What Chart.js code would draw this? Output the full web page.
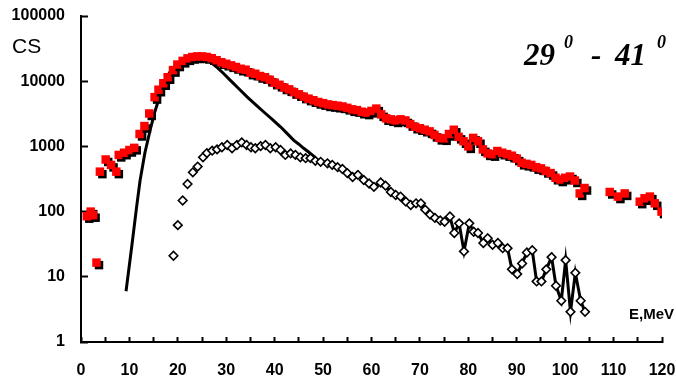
<!DOCTYPE html>
<html>
<head>
<meta charset="utf-8">
<script src="https://cdn.jsdelivr.net/npm/chart.js@4"></script>
<style>
  body { margin: 0; background: #fff; }
  #wrap { position: relative; width: 676px; height: 380px; }
  .lbl { position: absolute; white-space: pre; color: #000; line-height: 1; }
  .ttl { font-family: "Liberation Serif", "Times New Roman", serif; font-weight: bold; font-style: italic; }
</style>
</head>
<body>
<div id="wrap">
  <canvas id="chart" width="676" height="380"></canvas>
  <div class="lbl" style="left:12px;top:34px;font:21px 'Liberation Sans', Arial, sans-serif;">CS</div>
  <div class="lbl" style="left:629px;top:305px;font:bold 15px 'Liberation Sans', Arial, sans-serif;">E,MeV</div>
  <div class="lbl ttl" style="left:524px;top:39px;font-size:31px;line-height:31px;">29</div>
  <div class="lbl ttl" style="left:564px;top:33px;font-size:18px;line-height:18px;">0</div>
  <div class="lbl ttl" style="left:591px;top:39px;font-size:31px;line-height:31px;">-</div>
  <div class="lbl ttl" style="left:615px;top:39px;font-size:31px;line-height:31px;">41</div>
  <div class="lbl ttl" style="left:657px;top:33px;font-size:18px;line-height:18px;">0</div>
</div>
<script>
// measured cross section (red squares)
const expE = [1.2, 2.0, 2.5, 3.2, 3.9, 5.1, 6.2, 7.3, 7.8, 8.9, 10.0, 11.0, 12.1, 13.1, 14.1, 15.2, 16.0, 17.0, 17.9, 19.0,
  19.9, 21.0, 22.0, 23.0, 24.0, 25.0, 26.0, 27.0, 28.0, 29.0, 30.0, 31.0, 32.0, 33.0, 34.0, 35.0, 36.0, 37.0, 38.0, 39.0,
  40.0, 41.0, 42.0, 43.0, 44.0, 45.0, 46.0, 47.0, 48.0, 49.0, 50.0, 51.0, 52.0, 53.0, 54.0, 55.0, 56.0, 57.0, 58.0, 59.0,
  60.0, 61.0, 62.0, 63.0, 64.0, 65.0, 66.0, 67.0, 68.0, 69.0, 70.0, 71.0, 72.0, 73.0, 74.0, 75.0, 76.0, 77.0, 78.0, 79.0,
  80.0, 81.0, 82.0, 83.0, 84.0, 85.0, 86.0, 87.0, 88.0, 89.0, 90.0, 91.0, 92.0, 93.0, 94.0, 95.0, 96.0, 97.0, 98.0, 99.0,
  100.0, 101.0, 102.0, 103.0, 104.0, 109.2, 110.9, 112.3, 115.4, 116.4, 117.5, 118.5, 119.9];
const expCS = [85, 100, 88, 16.5, 410, 630, 520, 410, 740, 800, 880, 950, 1550, 2050, 3200, 5700, 7400, 9300, 11500, 14800,
  18000, 20500, 22400, 23500, 24000, 24000, 23500, 22500, 21000, 19500, 18500, 17500, 16500, 15500, 15000, 13500, 13000, 12000, 11500, 10500,
  9500, 8800, 8000, 7500, 6800, 6300, 5800, 5400, 5100, 4800, 4600, 4400, 4300, 4200, 4100, 3900, 3700, 3600, 3400, 3300,
  3500, 3800, 3100, 2700, 2600, 2500, 2600, 2500, 2200, 2000, 1900, 1800, 1700, 1500, 1350, 1330, 1550, 1800, 1400, 1200,
  1000, 1350, 1200, 900, 780, 760, 850, 800, 760, 720, 650, 560, 540, 520, 480, 460, 420, 390, 330, 310,
  330, 345, 300, 190, 230, 200, 170, 190, 142, 160, 170, 134, 100];

// open diamonds
const diaE = [19.1, 20.0, 21.0, 22.0, 23.1, 24.1, 25.2, 26.0, 27.1, 28.1, 29.1, 30.2, 31.2, 32.2, 33.2, 34.2, 35.1, 36.0, 37.1, 38.1,
  39.1, 40.2, 41.2, 42.2, 43.3, 44.3, 45.3, 46.4, 47.4, 48.4, 49.5, 50.9, 51.9, 53.0, 54.0, 55.0, 56.1, 57.2, 58.4, 59.5,
  60.5, 61.9, 62.9, 64.0, 65.0, 66.0, 67.1, 68.1, 69.2, 70.2, 71.1, 72.1, 73.1, 74.2, 75.1, 76.2, 77.1, 78.1, 79.1, 80.2,
  81.1, 82.0, 83.1, 84.0, 85.0, 86.1, 87.1, 88.1, 89.0, 90.1, 91.1, 92.1, 93.2, 94.1, 95.1, 96.1, 97.2, 98.1, 99.2, 100.1,
  101.1, 102.1, 103.2, 104.1];
const diaCS = [21, 62, 148, 265, 400, 490, 680, 790, 860, 900, 970, 1050, 935, 1050, 1150, 1050, 970, 935, 1010, 1050,
  935, 970, 880, 740, 780, 740, 680, 660, 660, 600, 580, 550, 520, 480, 450, 390, 340, 365, 305, 270,
  240, 280, 250, 200, 180, 170, 142, 126, 134, 134, 107, 90, 80, 73, 70, 84, 47, 66, 24.5, 66,
  49, 47, 33, 39, 31, 33, 27.5, 27.5, 13, 11, 16, 23.6, 25.5, 8.5, 8.5, 13, 20, 7.3, 4.3, 18,
  2.9, 11.5, 4.3, 2.9];

// solid black curve (rising part, then along the diamonds)
const curveE = [9.3, 10.5, 11.5, 12.2, 13.2, 14.3, 15.2, 16.0, 17.0, 17.7, 18.8, 20.0, 21.5, 23.0, 24.5, 26.0, 27.0, 28.1, 29.5, 30.8,
  32.5, 34.3, 36.0, 37.7, 39.5, 41.2, 42.5, 43.9, 45.0, 46.0, 47.0, 48.1];
const curveCS = [6, 30, 120, 300, 800, 1800, 3300, 5100, 8500, 11500, 15500, 18500, 21000, 22500, 23000, 21500, 19000, 16300, 13000, 10400,
  7800, 5750, 4400, 3400, 2600, 2000, 1600, 1250, 1080, 935, 820, 700];

const xTicks = [0, 10, 20, 30, 40, 50, 60, 70, 80, 90, 100, 110, 120];
const yTicks = [1, 10, 100, 1000, 10000, 100000];

const pts = (xs, ys) => xs.map((x, i) => ({ x: x, y: ys[i] }));
const curvePts = pts(curveE, curveCS).concat(pts(diaE, diaCS).filter(p => p.x > 48.1));

// black drop shadow under the red squares
const shadowPlugin = {
  id: 'shadow',
  beforeDatasetDraw(chart, args) {
    if (args.index !== 0) return;
    const ctx = chart.ctx;
    ctx.save();
    ctx.shadowColor = '#000';
    ctx.shadowOffsetX = 2.5;
    ctx.shadowOffsetY = 2.5;
    ctx.shadowBlur = 0;
  },
  afterDatasetDraw(chart, args) {
    if (args.index !== 0) return;
    chart.ctx.restore();
  }
};

// no extra room for overflowing tick labels, the plot box is fixed
const noPad = s => { s.paddingLeft = 0; s.paddingRight = 0; s.paddingTop = 0; s.paddingBottom = 0; };

const tickFont = { family: "'Liberation Sans', Arial, sans-serif", size: 16, weight: 'bold' };

new Chart(document.getElementById('chart'), {
  type: 'scatter',
  data: {
    datasets: [
      {
        data: pts(expE, expCS),
        pointStyle: 'rect',
        pointRadius: 6,
        backgroundColor: '#ff0000',
        borderWidth: 0,
        order: 0
      },
      {
        data: pts(diaE, diaCS),
        pointStyle: 'rectRot',
        pointRadius: 4.3,
        backgroundColor: '#fff',
        borderColor: '#000',
        borderWidth: 1.6,
        order: 1
      },
      {
        data: curvePts,
        showLine: true,
        pointRadius: 0,
        borderColor: '#000',
        borderWidth: 3,
        tension: 0,
        order: 2
      }
    ]
  },
  options: {
    responsive: false,
    animation: false,
    layout: { padding: { left: 0, right: 14, top: 16, bottom: 0 } },
    plugins: { legend: { display: false }, tooltip: { enabled: false } },
    scales: {
      x: {
        type: 'linear',
        min: 0,
        max: 120,
        afterFit: s => { s.height = 38; noPad(s); },
        border: { color: '#000', width: 2 },
        grid: { drawOnChartArea: false, drawTicks: true, tickLength: -5, tickWidth: 2, tickColor: '#000' },
        ticks: {
          stepSize: 5,
          autoSkip: false,
          maxRotation: 0,
          padding: 24,
          color: '#000',
          font: tickFont,
          callback: v => xTicks.includes(v) ? String(v) : ''
        }
      },
      y: {
        type: 'logarithmic',
        min: 1,
        max: 100000,
        afterFit: s => { s.width = 81; noPad(s); },
        afterBuildTicks: s => { s.ticks = yTicks.map(v => ({ value: v })); },
        border: { color: '#000', width: 2 },
        grid: { drawOnChartArea: false, drawTicks: true, tickLength: -7, tickWidth: 2, tickColor: '#000' },
        ticks: {
          padding: 23,
          color: '#000',
          font: tickFont,
          callback: v => String(v)
        }
      }
    }
  },
  plugins: [shadowPlugin]
});
</script>
</body>
</html>
